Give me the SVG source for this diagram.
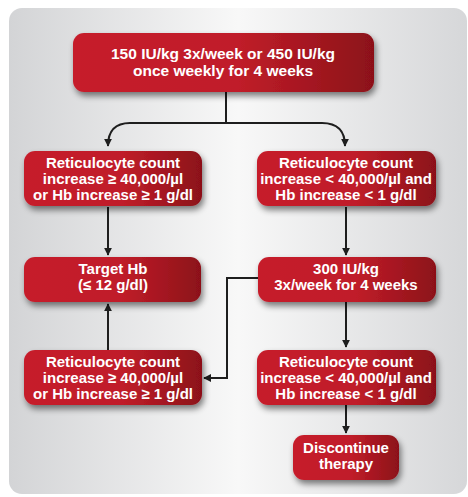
<svg xmlns="http://www.w3.org/2000/svg" width="468" height="497" viewBox="0 0 468 497">
<defs>
<linearGradient id="bg" x1="0" y1="0" x2="1" y2="0">
<stop offset="0" stop-color="#d3d4d6"/>
<stop offset="0.5" stop-color="#f8f8f8"/>
<stop offset="1" stop-color="#d6d7d9"/>
</linearGradient>
<linearGradient id="red" x1="0" y1="0" x2="1" y2="0">
<stop offset="0" stop-color="#c61f2c"/>
<stop offset="0.55" stop-color="#c01d29"/>
<stop offset="1" stop-color="#8c1119"/>
</linearGradient>
<filter id="sh" x="-10%" y="-20%" width="125%" height="160%">
<feGaussianBlur in="SourceAlpha" stdDeviation="3"/>
<feOffset dx="2" dy="4" result="b"/>
<feComponentTransfer><feFuncA type="linear" slope="0.5"/></feComponentTransfer>
<feMerge><feMergeNode/><feMergeNode in="SourceGraphic"/></feMerge>
</filter>
<marker id="ah" viewBox="0 0 10 10" refX="9" refY="5" markerWidth="4" markerHeight="4" orient="auto" markerUnits="strokeWidth">
<path d="M0,0 L10,5 L0,10 z" fill="#1e1e1e"/>
</marker>
<style>
.box{fill:url(#red);filter:url(#sh)}
.t{font-family:"Liberation Sans",Arial,sans-serif;font-weight:bold;font-size:15px;fill:#ffffff;text-anchor:middle}
.c{fill:none;stroke:#1e1e1e;stroke-width:2;marker-end:url(#ah)}
.l{fill:none;stroke:#1e1e1e;stroke-width:2}
</style>
</defs>
<rect x="9" y="8" width="458" height="486" rx="13" fill="url(#bg)"/>
<g id="connectors">
<line class="l" x1="226" y1="92" x2="226" y2="123"/>
<path class="c" d="M226,123 H130 Q108,123 108,146"/>
<path class="c" d="M226,123 H322 Q345,123 345,146"/>
<line class="c" x1="108" y1="207" x2="108" y2="255"/>
<line class="c" x1="346" y1="207" x2="346" y2="255"/>
<line class="c" x1="108" y1="350" x2="108" y2="304"/>
<line class="c" x1="346" y1="302" x2="346" y2="347"/>
<path class="c" d="M258,278 H227 V378 H204"/>
<line class="c" x1="346" y1="405" x2="346" y2="433"/>
</g>
<g id="n1"><rect class="box" x="73" y="33" width="301" height="59" rx="11"/>
<text class="t" x="223" y="59" style="font-size:15.5px">150 IU/kg 3x/week or 450 IU/kg</text>
<text class="t" x="223" y="76" style="font-size:15.5px">once weekly for 4 weeks</text></g>
<g id="n2"><rect class="box" x="24" y="151" width="178" height="55" rx="11"/>
<text class="t" x="113" y="168">Reticulocyte count</text>
<text class="t" x="113" y="184">increase ≥ 40,000/µl</text>
<text class="t" x="113" y="200">or Hb increase ≥ 1 g/dl</text></g>
<g id="n3"><rect class="box" x="257" y="151" width="179" height="55" rx="11"/>
<text class="t" x="346" y="168">Reticulocyte count</text>
<text class="t" x="346" y="184">increase &lt; 40,000/µl and</text>
<text class="t" x="346" y="200">Hb increase &lt; 1 g/dl</text></g>
<g id="n4"><rect class="box" x="24" y="257" width="177" height="45" rx="11"/>
<text class="t" x="113" y="274">Target Hb</text>
<text class="t" x="113" y="290">(≤ 12 g/dl)</text></g>
<g id="n5"><rect class="box" x="258" y="257" width="178" height="45" rx="11"/>
<text class="t" x="346" y="274">300 IU/kg</text>
<text class="t" x="346" y="290">3x/week for 4 weeks</text></g>
<g id="n6"><rect class="box" x="24" y="350" width="178" height="55" rx="11"/>
<text class="t" x="113" y="367">Reticulocyte count</text>
<text class="t" x="113" y="383">increase ≥ 40,000/µl</text>
<text class="t" x="113" y="399">or Hb increase ≥ 1 g/dl</text></g>
<g id="n7"><rect class="box" x="257" y="350" width="179" height="55" rx="11"/>
<text class="t" x="346" y="367">Reticulocyte count</text>
<text class="t" x="346" y="383">increase &lt; 40,000/µl and</text>
<text class="t" x="346" y="399">Hb increase &lt; 1 g/dl</text></g>
<g id="n8"><rect class="box" x="293" y="435" width="106" height="45" rx="11"/>
<text class="t" x="346" y="453">Discontinue</text>
<text class="t" x="346" y="469">therapy</text></g>
</svg>
